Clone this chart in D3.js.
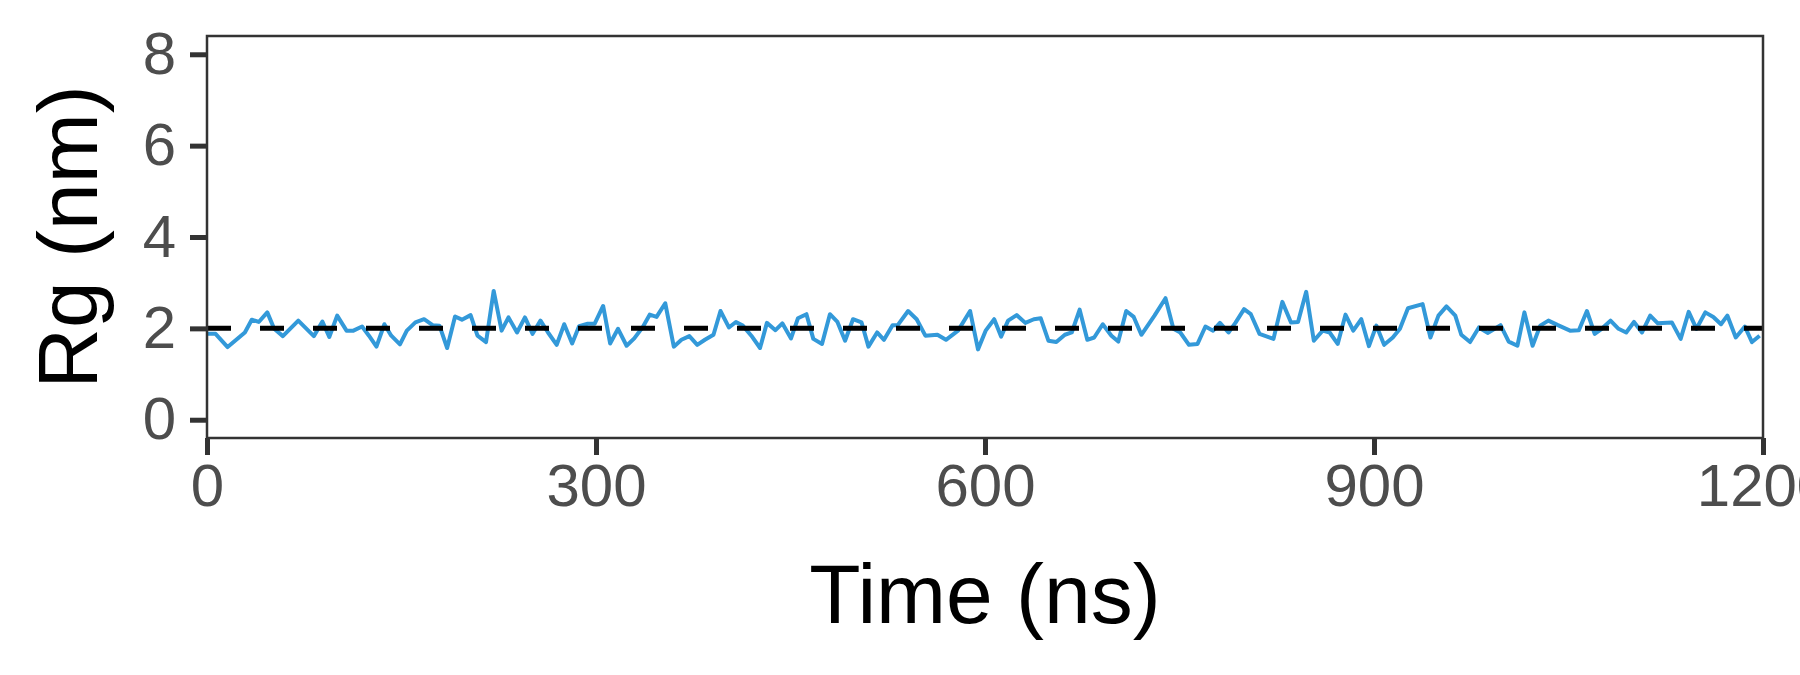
<!DOCTYPE html>
<html>
<head>
<meta charset="utf-8">
<script src="https://cdn.jsdelivr.net/npm/d3@7"></script>
<style>
  body { margin: 0; background: #fff; }
  text { font-family: "Liberation Sans", Arial, sans-serif; }
</style>
</head>
<body>
<svg id="chart" width="1800" height="675"></svg>
<script>
// time (ns)
var times = [0, 6.6, 15.9, 29.2, 34.5, 39.9, 46.5, 51.8, 58.5, 70.4, 82.4, 89, 94.3, 100.4, 107.6, 112.9,
  119.6, 124.9, 130.7, 136.8, 142.1, 148.8, 154.1, 160.7, 167.4, 174, 179.3, 185.2, 191.3, 196.6, 203.3,
  208.6, 215.2, 221.1, 227.2, 232.5, 239.1, 245.2, 251.1, 257.2, 263, 269.7, 275.5, 281.6, 287, 293.6,
  298.9, 305.5, 310.9, 317, 323.6, 329.5, 336.1, 341.4, 346.7, 353.4, 360, 365.9, 372, 378.1, 384, 390.6,
  396, 402.5, 407.9, 413.2, 419.8, 426.5, 431.8, 438.4, 443.7, 450.4, 455.7, 462.3, 467.6, 474.3, 480.4,
  486.2, 492.1, 498.2, 504.8, 510.1, 516.8, 522.1, 528.7, 532.7, 540.7, 547.3, 554, 563.3, 569.9, 579.2,
  588.5, 594.6, 600.5, 607.1, 612.4, 617.8, 624.4, 631.1, 637.7, 643, 648.9, 655, 661.6, 666.9, 673,
  678.9, 684.2, 690.8, 697.5, 702.8, 708.9, 714.7, 720.6, 730.7, 739.2, 745.3, 750.6, 757.3, 763.9, 770,
  775.9, 781.2, 787.8, 793.1, 799.8,
  805, 811.7, 822.5, 829.3, 836, 841.4, 847.7, 853.6, 860.4, 865.8, 872, 878, 884, 890.2, 896.1, 901.8,
  907.8, 914.5, 920, 926.2, 937.5, 943.5, 949.7, 955.9, 962.7, 967.3, 974.1, 980.9, 987.6, 997.6, 1003.9,
  1010.6, 1016, 1022.3, 1028.2, 1034.5, 1041.8, 1051.2, 1058, 1064.2, 1070.2, 1075.6, 1082.4, 1088.6,
  1094.5, 1100.5, 1106.7, 1113, 1118.9, 1129.7, 1136.5, 1142.7, 1148.7, 1155.5, 1161.7, 1167.6, 1172.5,
  1179, 1186, 1191.5, 1197.4];

// radius of gyration (nm)
var rg = [1.88, 1.88, 1.59, 1.91, 2.19, 2.14, 2.35, 1.99, 1.83, 2.17, 1.83, 2.15, 1.81, 2.28, 1.95, 1.95,
  2.04, 1.84, 1.60, 2.09, 1.84, 1.65, 1.95, 2.13, 2.20, 2.07, 2.06, 1.57, 2.26, 2.19, 2.29,
  1.84, 1.70, 2.82, 1.95, 2.24, 1.91, 2.24, 1.88, 2.17, 1.91, 1.64, 2.09, 1.67, 2.05, 2.10,
  2.10, 2.49, 1.67, 1.99, 1.62, 1.78, 2.03, 2.30, 2.25, 2.55, 1.60, 1.75, 1.83, 1.64, 1.75, 1.86,
  2.38, 2.02, 2.14, 2.06, 1.84, 1.57, 2.12, 1.96, 2.11, 1.78, 2.22, 2.31, 1.77, 1.66, 2.31,
  2.14, 1.73, 2.20, 2.13, 1.60, 1.91, 1.75, 2.07, 2.07, 2.38, 2.20, 1.84, 1.86, 1.75, 1.95,
  2.38, 1.54, 1.95, 2.20, 1.82, 2.17, 2.29, 2.12, 2.20, 2.22, 1.73, 1.70, 1.86, 1.91, 2.41,
  1.75, 1.80, 2.09, 1.84, 1.71, 2.38, 2.25, 1.86, 2.28, 2.66, 1.99, 1.91, 1.64, 1.66, 2.04,
  1.95, 2.12, 1.91, 2.12, 2.42,
  2.31, 1.88, 1.77, 2.58, 2.13, 2.14, 2.80, 1.73, 1.95, 1.91, 1.66, 2.30, 1.95, 2.20, 1.61, 2.06,
  1.64, 1.80, 1.99, 2.44, 2.53, 1.80, 2.28, 2.48, 2.28, 1.86, 1.70, 2.02, 1.90, 2.07, 1.71,
  1.62, 2.35, 1.62, 2.06, 2.17, 2.07, 1.95, 1.96, 2.38, 1.88, 1.99, 2.17, 1.99,
  1.91, 2.14, 1.91, 2.28, 2.11, 2.13, 1.77, 2.36, 1.99, 2.35, 2.25, 2.09, 2.28,
  1.80, 2.04, 1.70, 1.84];

var xTicks = [0, 300, 600, 900, 1200];
var yTicks = [0, 2, 4, 6, 8];
var refLine = 2;

var svg = d3.select("#chart");
var pLeft = 207, pRight = 1763, pTop = 36, pBottom = 438;

var x = d3.scaleLinear().domain([0, 1200]).range([pLeft, pRight]);
var y = d3.scaleLinear().domain([-0.4, 8.4]).range([pBottom, pTop]);

var data = times.map(function (t, i) { return { t: t, v: rg[i] }; });

svg.append("clipPath").attr("id", "clip")
  .append("rect").attr("x", pLeft).attr("y", pTop).attr("width", pRight - pLeft).attr("height", pBottom - pTop);

var plot = svg.append("g").attr("clip-path", "url(#clip)");

plot.append("path")
  .datum(data)
  .attr("fill", "none")
  .attr("stroke", "#3399d9")
  .attr("stroke-width", 4)
  .attr("stroke-linejoin", "round")
  .attr("d", d3.line().x(function (d) { return x(d.t); }).y(function (d) { return y(d.v); }));

plot.append("line")
  .attr("x1", x(0)).attr("x2", x(1200))
  .attr("y1", y(refLine)).attr("y2", y(refLine))
  .attr("stroke", "#000")
  .attr("stroke-width", 5)
  .attr("stroke-dasharray", "24,29");

svg.append("rect")
  .attr("x", pLeft).attr("y", pTop)
  .attr("width", pRight - pLeft).attr("height", pBottom - pTop)
  .attr("fill", "none").attr("stroke", "#333").attr("stroke-width", 2.5);

var xAxis = svg.append("g")
  .attr("transform", "translate(0," + pBottom + ")")
  .call(d3.axisBottom(x).tickValues(xTicks).tickSize(17).tickPadding(8).tickFormat(d3.format("d")));
var yAxis = svg.append("g")
  .attr("transform", "translate(" + pLeft + ",0)")
  .call(d3.axisLeft(y).tickValues(yTicks).tickSize(17).tickPadding(14));

[xAxis, yAxis].forEach(function (a) {
  a.select(".domain").remove();
  a.selectAll(".tick line").attr("stroke", "#333").attr("stroke-width", 5);
  a.selectAll(".tick text").attr("fill", "#4d4d4d").style("font-size", "60px")
    .style("font-family", "'Liberation Sans', Arial, sans-serif");
});

svg.append("text")
  .attr("x", (pLeft + pRight) / 2).attr("y", 623)
  .attr("text-anchor", "middle")
  .style("font-size", "84px")
  .text("Time (ns)");

svg.append("text")
  .attr("transform", "translate(97," + (pTop + pBottom) / 2 + ") rotate(-90)")
  .attr("text-anchor", "middle")
  .style("font-size", "84px")
  .text("Rg (nm)");
</script>
</body>
</html>
